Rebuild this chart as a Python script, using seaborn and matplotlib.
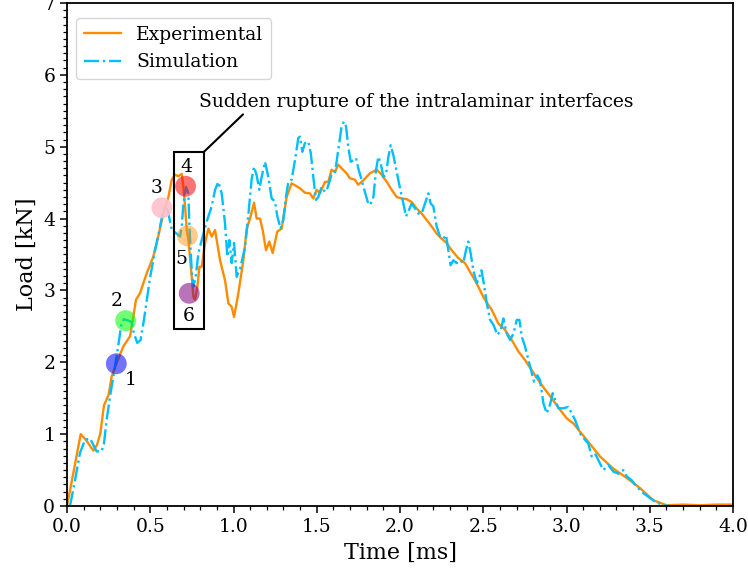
import numpy as np
import pandas as pd
import matplotlib
matplotlib.use("Agg")
import matplotlib.pyplot as plt
from matplotlib.patches import Rectangle
from matplotlib.ticker import MultipleLocator
import seaborn as sns

# ---------------- data ----------------
exp_t = [0.0, 0.038, 0.082, 0.114, 0.158, 0.18, 0.2, 0.222, 0.25, 0.268, 0.298, 0.338, 0.378, 0.398,
         0.414, 0.438, 0.479, 0.518, 0.548, 0.578, 0.609, 0.629, 0.649, 0.668, 0.689, 0.699, 0.709,
         0.719, 0.729, 0.749, 0.759, 0.769, 0.783, 0.795, 0.809, 0.829, 0.849, 0.869, 0.889, 0.919,
         0.949, 0.969, 0.989, 1.003, 1.029, 1.059, 1.079, 1.099, 1.123, 1.139, 1.159, 1.175, 1.195,
         1.215, 1.235, 1.263, 1.289, 1.319, 1.349, 1.379, 1.399, 1.429, 1.459, 1.479, 1.499, 1.519,
         1.549, 1.569, 1.589, 1.609, 1.629, 1.649, 1.679, 1.699, 1.729, 1.749, 1.779, 1.819, 1.86,
         1.89, 1.92, 1.95, 1.98, 2.01, 2.04, 2.07, 2.10, 2.13, 2.16, 2.19, 2.22, 2.25, 2.28, 2.31,
         2.35, 2.39, 2.42, 2.46, 2.50, 2.53, 2.551, 2.59, 2.631, 2.671, 2.711, 2.751, 2.791, 2.831,
         2.871, 2.911, 2.951, 3.001, 3.041, 3.121, 3.201, 3.281, 3.362, 3.441, 3.521, 3.602, 3.7,
         3.8, 3.9, 4.0]
exp_load = [0.0, 0.46, 1.0, 0.92, 0.77, 0.85, 1.01, 1.4, 1.55, 1.8, 1.99, 2.22, 2.36, 2.63,
            2.87, 2.96, 3.24, 3.47, 3.75, 4.07, 4.30, 4.54, 4.61, 4.59, 4.62, 4.44, 4.17,
            3.84, 3.70, 3.19, 2.91, 2.87, 3.05, 3.33, 3.33, 3.66, 3.86, 3.75, 3.84, 3.42,
            3.14, 2.82, 2.77, 2.63, 2.96, 3.42, 3.85, 4.0, 4.22, 4.0, 4.0, 3.84, 3.56,
            3.68, 3.52, 3.82, 3.86, 4.30, 4.49, 4.45, 4.42, 4.36, 4.35, 4.28, 4.40, 4.35,
            4.51, 4.51, 4.68, 4.65, 4.75, 4.70, 4.63, 4.56, 4.54, 4.47, 4.53, 4.63, 4.68,
            4.61, 4.51, 4.40, 4.30, 4.28, 4.27, 4.23, 4.14, 4.07, 3.98, 3.89, 3.79, 3.72, 3.66, 3.56,
            3.45, 3.38, 3.26, 3.10, 2.91, 2.80, 2.73, 2.54, 2.45, 2.31, 2.15, 2.03, 1.89, 1.75,
            1.62, 1.50, 1.37, 1.22, 1.15, 0.92, 0.69, 0.52, 0.39, 0.25, 0.08, 0.01, 0.02,
            0.01, 0.02, 0.02]

sim_t = [0.018, 0.048, 0.078, 0.108, 0.138, 0.158, 0.178, 0.208, 0.222, 0.238, 0.258, 0.278, 0.298,
         0.314, 0.328, 0.342, 0.368, 0.388, 0.402, 0.422, 0.442, 0.462, 0.482, 0.498, 0.529, 0.559,
         0.578, 0.598, 0.609, 0.629, 0.659, 0.679, 0.689, 0.699, 0.715, 0.729, 0.735, 0.743, 0.751,
         0.759, 0.773, 0.789, 0.809, 0.839, 0.869, 0.889, 0.909, 0.929, 0.949, 0.963, 0.975, 0.989,
         1.003, 1.019, 1.039, 1.069, 1.089, 1.109, 1.123, 1.139, 1.155, 1.169, 1.189, 1.209, 1.229,
         1.249, 1.263, 1.283, 1.299, 1.315, 1.329, 1.349, 1.369, 1.389, 1.399, 1.413, 1.429, 1.449,
         1.464, 1.479, 1.495, 1.509, 1.529, 1.549, 1.563, 1.589, 1.609, 1.629, 1.649, 1.663, 1.676,
         1.689, 1.704, 1.719, 1.736, 1.749, 1.769, 1.789, 1.809, 1.820, 1.840, 1.856, 1.870, 1.884,
         1.900, 1.916, 1.930, 1.944, 1.960, 1.980, 2.000, 2.020, 2.036, 2.050, 2.070, 2.090, 2.110,
         2.130, 2.150, 2.170, 2.184, 2.200, 2.220, 2.240, 2.260, 2.276, 2.290, 2.304, 2.320, 2.340,
         2.360, 2.380, 2.396, 2.410, 2.424, 2.440, 2.460, 2.474, 2.489, 2.503, 2.521, 2.541, 2.561,
         2.585, 2.605, 2.621, 2.641, 2.661, 2.681, 2.701, 2.717, 2.731, 2.751, 2.771, 2.791, 2.805,
         2.825, 2.841, 2.861, 2.881, 2.901, 2.917, 2.931, 2.951, 2.981, 3.011, 3.031, 3.051, 3.081,
         3.111, 3.131, 3.151, 3.171, 3.191, 3.221, 3.251, 3.281, 3.311, 3.341, 3.362, 3.391, 3.421,
         3.461, 3.501, 3.541, 3.581, 3.62]
sim_load = [0.0, 0.36, 0.74, 0.92, 0.94, 0.85, 0.76, 0.76, 0.87, 1.20, 1.52, 1.80, 2.08,
            2.33, 2.56, 2.60, 2.58, 2.56, 2.40, 2.27, 2.31, 2.59, 2.91, 3.17, 3.56, 3.89,
            4.12, 4.17, 4.07, 3.84, 3.79, 3.75, 3.89, 4.21, 4.44, 4.35, 3.89, 3.52, 3.21,
            3.05, 3.19, 3.52, 3.70, 3.96, 4.17, 4.40, 4.51, 4.35, 3.93, 3.47, 3.70, 3.38,
            3.66, 3.19, 3.30, 3.60, 4.05, 4.55, 4.72, 4.60, 4.40, 4.58, 4.79, 4.58, 4.28,
            4.24, 4.03, 3.86, 3.98, 4.30, 4.51, 4.54, 4.81, 5.12, 5.14, 4.93, 5.05, 5.07,
            4.91, 4.58, 4.26, 4.30, 4.44, 4.37, 4.42, 4.61, 4.63, 4.95, 5.28, 5.35, 5.28,
            5.00, 4.79, 4.81, 4.84, 4.70, 4.54, 4.37, 4.21, 4.19, 4.30, 4.68, 4.86, 4.77,
            4.58, 4.61, 4.86, 5.02, 4.88, 4.65, 4.42, 4.21, 4.03, 4.10, 4.21, 4.14, 4.07,
            4.07, 4.21, 4.35, 4.21, 4.17, 3.89, 3.75, 3.72, 3.77, 3.56, 3.35, 3.42, 3.38,
            3.42, 3.38, 3.56, 3.68, 3.52, 3.28, 3.10, 3.17, 3.28, 3.10, 2.82, 2.59, 2.52,
            2.38, 2.45, 2.61, 2.40, 2.31, 2.40, 2.59, 2.59, 2.36, 2.22, 2.03, 1.85, 1.73,
            1.82, 1.75, 1.43, 1.29, 1.41, 1.57, 1.48, 1.36, 1.36, 1.38, 1.29, 1.20, 1.01,
            0.92, 0.87, 0.69, 0.73, 0.64, 0.50, 0.57, 0.48, 0.45, 0.50, 0.41, 0.36, 0.27,
            0.18, 0.11, 0.05, 0.01, 0.0]

pt_labels = ["1", "2", "3", "4", "5", "6"]
pt_t = [0.296, 0.352, 0.570, 0.712, 0.723, 0.734]
pt_load = [1.98, 2.58, 4.15, 4.45, 3.76, 2.96]
pt_colors = ["blue", "lime", "pink", "red", "darkorange", "purple"]
pt_alpha = [0.55, 0.55, 0.9, 0.55, 0.45, 0.55]
lbl_t = [0.384, 0.30, 0.535, 0.715, 0.685, 0.733]
lbl_load = [1.75, 2.85, 4.43, 4.72, 3.44, 2.64]

box_t0, box_t1 = 0.645, 0.823
box_l0, box_l1 = 2.46, 4.93

annot_text = "Sudden rupture of the intralaminar interfaces"

# ---------------- plot ----------------
sns.set_style("ticks")
plt.rcParams["font.family"] = ["DejaVu Serif"]
plt.rcParams["mathtext.fontset"] = "dejavuserif"
for k in ["text.color", "axes.labelcolor", "xtick.color", "ytick.color", "axes.edgecolor"]:
    plt.rcParams[k] = "black"

fig = plt.figure(figsize=(7.48, 5.71), dpi=100)
ax = fig.add_axes([0.0896, 0.1138, 0.8904, 0.881])

sns.lineplot(x=exp_t, y=exp_load, ax=ax, color="darkorange", lw=1.7,
             label="Experimental", sort=False)
sns.lineplot(x=sim_t, y=sim_load, ax=ax, color="deepskyblue", lw=1.7,
             linestyle="-.", label="Simulation", sort=False)

for t, l, c, a in zip(pt_t, pt_load, pt_colors, pt_alpha):
    ax.scatter([t], [l], s=225, color=c, alpha=a, edgecolors="none", zorder=5)
for s, t, l in zip(pt_labels, lbl_t, lbl_load):
    ax.text(t, l, s, fontsize=13.5, ha="center", va="center", zorder=6)

ax.add_patch(Rectangle((box_t0, box_l0), box_t1 - box_t0, box_l1 - box_l0,
                       fill=False, edgecolor="black", lw=1.5, zorder=4))
ax.annotate(annot_text, xy=(box_t1, box_l1), xytext=(2.095, 5.62),
            fontsize=13.5, ha="center", va="center",
            arrowprops=dict(arrowstyle="-", color="black", lw=1.5,
                            relpos=(0.11, 0.0), shrinkA=0, shrinkB=0))

ax.set_xlim(0, 4)
ax.set_ylim(0, 7)
ax.xaxis.set_major_locator(MultipleLocator(0.5))
ax.xaxis.set_minor_locator(MultipleLocator(0.1))
ax.yaxis.set_major_locator(MultipleLocator(1))
ax.yaxis.set_minor_locator(MultipleLocator(0.1))
ax.tick_params(which="major", labelsize=13.5, length=5, width=1.1, color="black")
ax.tick_params(which="minor", length=3, width=0.9, color="black")
for sp in ax.spines.values():
    sp.set_linewidth(1.3)
    sp.set_color("black")
    sp.set_visible(True)

ax.set_xlabel("Time [ms]", fontsize=16)
ax.set_ylabel("Load [kN]", fontsize=16)
ax.legend(loc="upper left", bbox_to_anchor=(0.0, 1 - 6 / 503), fontsize=13.5, frameon=True)

fig.savefig("out.png", dpi=100)
